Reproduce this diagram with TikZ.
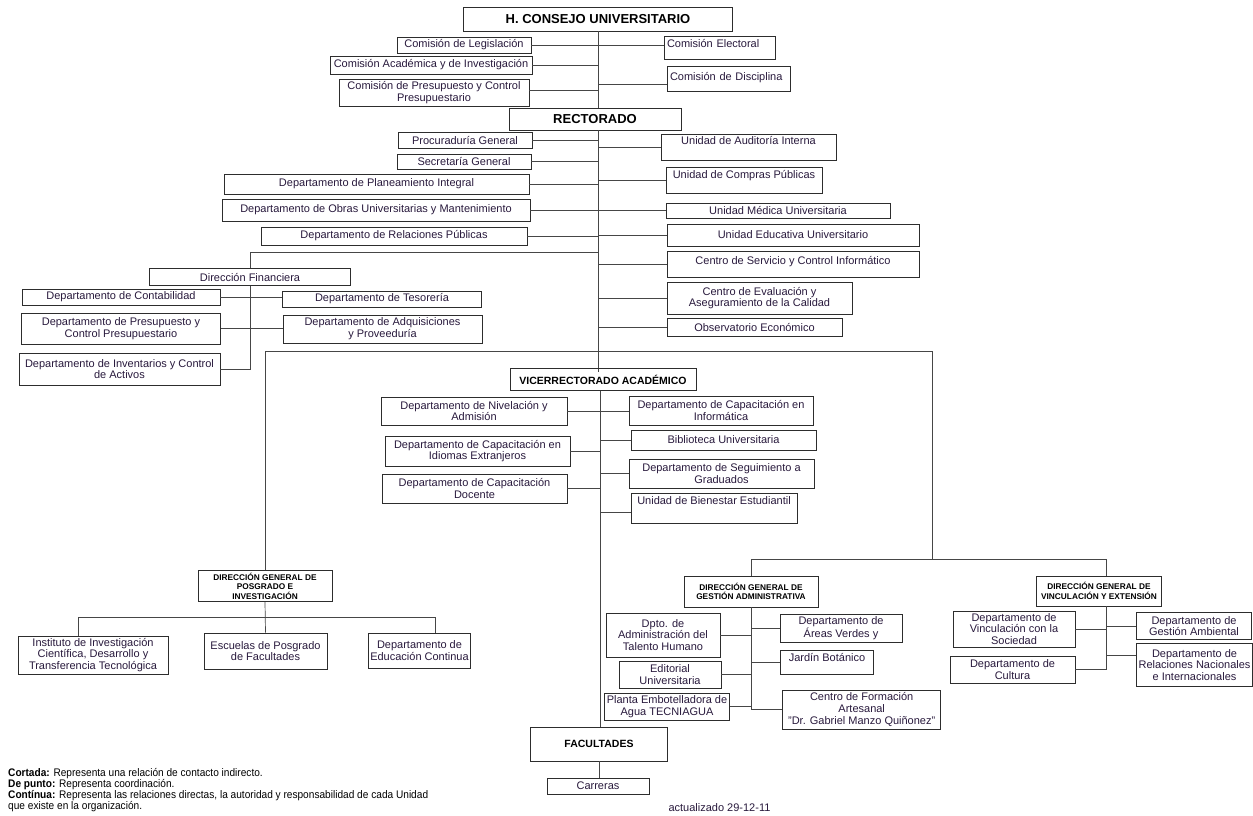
\documentclass[tikz,border=0pt]{standalone}
\usepackage{fontspec}
\setmainfont{Liberation Sans}
\newfontfamily\legendfont{Liberation Sans}[FakeStretch=0.92]

\definecolor{ink}{RGB}{40,25,60}
\definecolor{boxline}{RGB}{45,45,45}
\definecolor{wiregray}{RGB}{70,70,70}
\newcommand\unitfont{\fontsize{11}{11.8}\selectfont}
\newcommand\headfont{\fontsize{13}{15}\selectfont\bfseries}
\newcommand\subheadfont{\fontsize{10.5}{12}\selectfont\bfseries}
\newcommand\dgfont{\fontsize{8.3}{9.6}\selectfont\bfseries}

\begin{document}
\begin{tikzpicture}[x=1pt, y=-1pt, font=\unitfont,
  orgbox/.style={draw=boxline, line width=0.7pt, inner sep=2pt, align=center, text=ink},
  sz/.style 2 args={minimum width=#1pt, minimum height=#2pt},
  lift/.style={text depth=#1pt},
  headbox/.style={orgbox, font=\headfont, text=black},
  subhead/.style={orgbox, font=\subheadfont, text=black},
  dgbox/.style={orgbox, font=\dgfont, text=black},
  wire/.style={draw=wiregray, line width=0.7pt}]

\useasboundingbox (0,0) rectangle (1253,815);

% spines and junctions
\coordinate (sp) at (598,0);
\coordinate (lsp) at (600,0);
\coordinate (finjoin) at (598,252);
\coordinate (loopR) at (932,351);
\coordinate (busR) at (932,559);
\coordinate (vinsp) at (1106,559);

% consejo
\node[headbox, sz={269}{24}] (consejo) at (598,19) {H. CONSEJO UNIVERSITARIO};
\node[orgbox, sz={134}{16}] (legis) at (464,45) {Comisión de Legislación};
\node[orgbox, sz={202}{18}] (acad) at (431,65) {Comisión Académica y de Investigación};
\node[orgbox, sz={190}{27}] (presup) at (434,92.5) {Comisión de Presupuesto y Control\\Presupuestario};
\node[orgbox, sz={111}{23}, align=left, text width=105pt, lift=8] (electoral) at (719.5,47.5) {Comisión Electoral};
\node[orgbox, sz={123}{25}, align=left, text width=117pt, lift=5] (discip) at (728.5,78.5) {Comisión de Disciplina};
\node[headbox, sz={172}{22}] (rector) at (595,119) {RECTORADO};

\draw[wire] (consejo.south -| sp) -- (rector.north -| sp);
\draw[wire] (legis.east) -- (legis.east -| electoral.west);
\draw[wire] (acad.east) -- (acad.east -| sp);
\draw[wire] ([yshift=2.5pt]presup.east) -- ([yshift=2.5pt]presup.east -| sp);
\draw[wire] ([yshift=-6pt]discip.west -| sp) -- ([yshift=-6pt]discip.west);

% rectorado
\node[orgbox, sz={134}{16}] (procur) at (465,140) {Procuraduría General};
\node[orgbox, sz={134}{15}] (secret) at (464,161.5) {Secretaría General};
\node[orgbox, sz={305}{20}] (planea) at (376.5,184) {Departamento de Planeamiento Integral};
\node[orgbox, sz={308}{22}] (obras) at (376,210) {Departamento de Obras Universitarias y Mantenimiento};
\node[orgbox, sz={266}{18}] (relpub) at (394,236) {Departamento de Relaciones Públicas};

\node[orgbox, sz={175}{26}, lift=14] (audit) at (748.5,147) {Unidad de Auditoría Interna};
\node[orgbox, sz={156}{26}, lift=12] (compras) at (744,180) {Unidad de Compras Públicas};
\node[orgbox, sz={224}{15}] (medica) at (778,210.5) {Unidad Médica Universitaria};
\node[orgbox, sz={252}{22}] (educ) at (793,235) {Unidad Educativa  Universitario};
\node[orgbox, sz={252}{26}, lift=8] (servinf) at (793,264) {Centro de Servicio y Control Informático};
\node[orgbox, sz={185}{32}] (evalua) at (759.5,298) {Centro de Evaluación y\\Aseguramiento de la Calidad};
\node[orgbox, sz={175}{18}] (observ) at (754.5,327) {Observatorio Económico};

\draw[wire] (rector.south -| sp) -- (sp |- 0,372);
\foreach \n in {procur,secret,planea,obras,relpub}
  \draw[wire] (\n.east) -- (\n.east -| sp);
\foreach \n in {audit,compras,medica,educ,servinf,evalua,observ}
  \draw[wire] (sp |- \n.west) -- (\n.west);

% financiera
\node[orgbox, sz={201}{17}] (dirfin) at (250,277) {Dirección Financiera};
\node[orgbox, sz={198}{16}] (contab) at (121,297) {Departamento de Contabilidad};
\node[orgbox, sz={199}{16}] (tesor) at (382,299) {Departamento de Tesorería};
\node[orgbox, sz={199}{31}] (presdep) at (121,328.5) {Departamento de Presupuesto y\\Control Presupuestario};
\node[orgbox, sz={199}{28}] (adqui) at (382.5,329) {Departamento de Adquisiciones\\y Proveeduría};
\node[orgbox, sz={201}{32}] (invent) at (119.5,369) {Departamento de Inventarios y Control\\de Activos};

\draw[wire] (finjoin) -| (dirfin.north);
\draw[wire] (dirfin.south) |- (invent.east);
\draw[wire] (contab.east) -- (contab.east -| tesor.west);
\draw[wire] (presdep.east) -- (presdep.east -| adqui.west);

% vicerrectorado
\node[subhead, sz={186}{22}] (vicerr) at (603,379.5) {VICERRECTORADO  ACADÉMICO};
\node[orgbox, sz={186}{28}] (nivel) at (474,411) {Departamento de Nivelación y\\Admisión};
\node[orgbox, sz={185}{30}] (idiom) at (477.5,451) {Departamento de Capacitación en\\Idiomas Extranjeros};
\node[orgbox, sz={185}{29}] (docen) at (474.5,488.5) {Departamento de Capacitación\\Docente};
\node[orgbox, sz={184}{29}] (inform) at (721,410.5) {Departamento de Capacitación en\\Informática};
\node[orgbox, sz={185}{20}] (biblio) at (723.5,440) {Biblioteca Universitaria};
\node[orgbox, sz={185}{29}] (segui) at (721.5,473.5) {Departamento de Seguimiento a\\Graduados};
\node[orgbox, sz={166}{30}, lift=14] (bienes) at (714,508) {Unidad de Bienestar  Estudiantil};

\node[subhead, sz={137}{34}] (facul) at (599,744) {FACULTADES};
\node[orgbox, sz={102}{16}] (carre) at (598,786) {Carreras};

\draw[wire] (vicerr.south -| lsp) -- (facul.north -| lsp);
\draw[wire] (facul.south) -- (facul.south |- carre.north);
\draw[wire] (nivel.east) -- (nivel.east -| inform.west);
\draw[wire] (idiom.east) -- (idiom.east -| lsp);
\draw[wire] (docen.east) -- (docen.east -| lsp);
\draw[wire] (lsp |- biblio.west) -- (biblio.west);
\draw[wire] (lsp |- segui.west) -- (segui.west);
\draw[wire] ([yshift=-4pt]bienes.west -| lsp) -- ([yshift=-4pt]bienes.west);

% posgrado
\node[dgbox, sz={134}{31}] (dgpos) at (265,586) {DIRECCIÓN GENERAL DE\\POSGRADO E\\INVESTIGACIÓN};
\node[orgbox, sz={150}{38}] (instit) at (93,655) {Instituto de Investigación\\Científica, Desarrollo y\\Transferencia Tecnológica};
\node[orgbox, sz={123}{36}] (escuel) at (265.5,651) {Escuelas de Posgrado\\de Facultades};
\node[orgbox, sz={101}{35}] (educon) at (419.5,650.5) {Departamento de\\Educación Continua};

\draw[wire] (dgpos.north) |- (loopR) -- (busR);
\draw[wire] (dgpos.south) -- (escuel.north);
\draw[wire] ([xshift=-15pt]instit.north) -- ++(0,-18) -| ([xshift=15.5pt]educon.north);

% gestion administrativa
\node[dgbox, sz={134}{31}] (dgges) at (751,591.5) {DIRECCIÓN GENERAL DE\\GESTIÓN ADMINISTRATIVA};
\node[orgbox, sz={114}{44}] (talento) at (663,635) {Dpto. de\\Administración del\\Talento Humano};
\node[orgbox, sz={102}{27}] (editor) at (670,674.5) {Editorial\\Universitaria};
\node[orgbox, sz={125}{27}] (planta) at (667,706.5) {Planta Embotelladora de\\Agua TECNIAGUA};
\node[orgbox, sz={122}{28}] (verdes) at (841,628) {Departamento de\\Áreas Verdes y};
\node[orgbox, sz={93}{24}, lift=10] (jardin) at (827,662) {Jardín Botánico};
\node[orgbox, sz={158}{39}] (cfa) at (861.7,709.5) {Centro de Formación\\Artesanal\\"Dr. Gabriel Manzo Quiñonez"};

\draw[wire] (dgges.north) |- (vinsp);
\draw[wire] (dgges.south) |- (cfa.west);
\foreach \n in {talento,editor,planta}
  \draw[wire] (\n.east) -- (\n.east -| dgges.south);
\foreach \n in {verdes,jardin}
  \draw[wire] (dgges.south |- \n.west) -- (\n.west);

% vinculacion
\node[dgbox, sz={125}{30}] (dgvin) at (1099,591) {DIRECCIÓN GENERAL DE\\VINCULACIÓN Y EXTENSIÓN};
\node[orgbox, sz={122}{36}] (vinsoc) at (1014,629) {Departamento de\\Vinculación con la\\Sociedad};
\node[orgbox, sz={125}{27}] (cultura) at (1012.5,669.5) {Departamento de\\Cultura};
\node[orgbox, sz={115}{27}] (gestamb) at (1194,626) {Departamento de\\Gestión Ambiental};
\node[orgbox, sz={115}{43}] (relnac) at (1194.5,665) {Departamento de\\Relaciones Nacionales\\e Internacionales};

\draw[wire] (vinsp) -- (vinsp |- dgvin.north);
\draw[wire] (dgvin.south -| vinsp) |- (cultura.east);
\draw[wire] (vinsoc.east) -- (vinsoc.east -| vinsp);
\draw[wire] (vinsp |- gestamb.west) -- (gestamb.west);
\draw[wire] ([yshift=10pt]relnac.west -| vinsp) -- ([yshift=10pt]relnac.west);

% legend
\node[anchor=north west, inner sep=0pt, align=left, text=black,
  font={\legendfont\fontsize{11}{11}\selectfont}] (legend) at (8,768)
  {\textbf{Cortada:} Representa una relación de contacto indirecto.\\
   \textbf{De punto:}  Representa coordinación.\\
   \textbf{Contínua:} Representa las relaciones directas, la autoridad y responsabilidad  de cada Unidad\\
   que existe en la organización.};
\node[font=\fontsize{11}{13}\selectfont, text=ink] (fecha) at (719.5,808) {actualizado 29-12-11};
\end{tikzpicture}
\end{document}
